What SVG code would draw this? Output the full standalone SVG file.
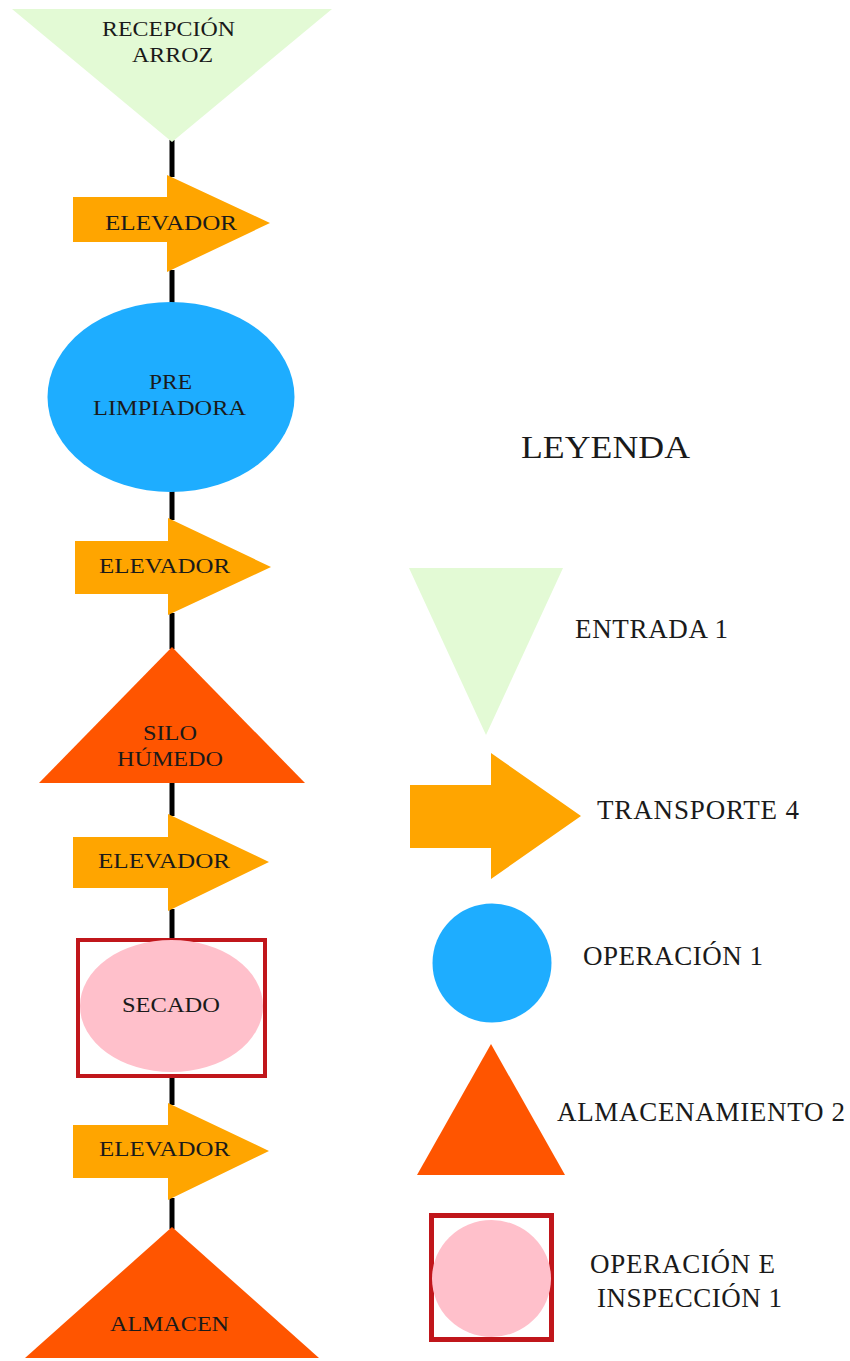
<svg xmlns="http://www.w3.org/2000/svg" width="850" height="1361" viewBox="0 0 850 1361">
<style>
.t{font-family:"Liberation Serif","Times New Roman",serif;fill:#1a1a1a}
.s{font-size:21px}
.l{font-size:27px}
.entrada{fill:#E3FAD5}
.transp{fill:#FFA500}
.oper{fill:#1EADFF}
.alm{fill:#FF5500}
.insp{fill:#FFC0CB}
.box{fill:#ffffff;stroke:#C0161B;stroke-width:4}
.conn{stroke:#000;stroke-width:5;fill:none}
</style>
<rect width="850" height="1361" fill="#ffffff"/>
<g id="connectors">
<line class="conn" x1="172" y1="140" x2="172" y2="177"/>
<line class="conn" x1="172" y1="270" x2="172" y2="304"/>
<line class="conn" x1="172" y1="490" x2="172" y2="520"/>
<line class="conn" x1="172" y1="613" x2="172" y2="649"/>
<line class="conn" x1="172" y1="781" x2="172" y2="816"/>
<line class="conn" x1="172" y1="909" x2="172" y2="938"/>
<line class="conn" x1="172" y1="1078" x2="172" y2="1105"/>
<line class="conn" x1="172" y1="1198" x2="172" y2="1229"/>
</g>
<g id="recepcion">
<polygon class="entrada" points="12,9 332,9 172,142"/>
<text class="t s" x="102" y="36" textLength="133" lengthAdjust="spacingAndGlyphs">RECEPCIÓN</text>
<text class="t s" x="132" y="62" textLength="81" lengthAdjust="spacingAndGlyphs">ARROZ</text>
</g>
<g id="elevador1">
<polygon class="transp" points="73,197 167,197 167,175 270,223 167,272 167,242 73,242"/>
<text class="t s" x="105" y="230" textLength="132" lengthAdjust="spacingAndGlyphs">ELEVADOR</text>
</g>
<g id="prelimpiadora">
<ellipse class="oper" cx="171" cy="397" rx="123.5" ry="95"/>
<text class="t s" x="149" y="389" textLength="43" lengthAdjust="spacingAndGlyphs">PRE</text>
<text class="t s" x="93" y="415" textLength="153" lengthAdjust="spacingAndGlyphs">LIMPIADORA</text>
</g>
<g id="elevador2">
<polygon class="transp" points="75,541 168,541 168,518 271,567 168,615 168,594 75,594"/>
<text class="t s" x="99" y="573" textLength="131" lengthAdjust="spacingAndGlyphs">ELEVADOR</text>
</g>
<g id="silohumedo">
<polygon class="alm" points="172,647 305,783 39,783"/>
<text class="t s" x="143" y="740" textLength="54" lengthAdjust="spacingAndGlyphs">SILO</text>
<text class="t s" x="117" y="766" textLength="106" lengthAdjust="spacingAndGlyphs">HÚMEDO</text>
</g>
<g id="elevador3">
<polygon class="transp" points="73,837 168,837 168,814 269,862 168,911 168,888 73,888"/>
<text class="t s" x="98" y="868" textLength="132" lengthAdjust="spacingAndGlyphs">ELEVADOR</text>
</g>
<g id="secado">
<rect class="box" x="78" y="940" width="187" height="136"/>
<ellipse class="insp" cx="171.5" cy="1006" rx="91.5" ry="66"/>
<text class="t s" x="122" y="1012" textLength="98" lengthAdjust="spacingAndGlyphs">SECADO</text>
</g>
<g id="elevador4">
<polygon class="transp" points="73,1125 168,1125 168,1103 269,1151 168,1200 168,1178 73,1178"/>
<text class="t s" x="99" y="1156" textLength="131" lengthAdjust="spacingAndGlyphs">ELEVADOR</text>
</g>
<g id="almacen">
<polygon class="alm" points="172,1227 319,1358 25,1358"/>
<text class="t s" x="110" y="1331" textLength="119" lengthAdjust="spacingAndGlyphs">ALMACEN</text>
</g>
<g id="leyenda">
<text class="t" style="font-size:32px" x="521" y="458" textLength="169" lengthAdjust="spacingAndGlyphs">LEYENDA</text>
</g>
<g id="leg-entrada">
<polygon class="entrada" points="409,568 563,568 486,735"/>
<text class="t l" x="575" y="638" textLength="153" lengthAdjust="spacing">ENTRADA 1</text>
</g>
<g id="leg-transporte">
<polygon class="transp" points="410,785 491,785 491,753 581,816 491,879 491,848 410,848"/>
<text class="t l" x="597" y="819" textLength="202" lengthAdjust="spacing">TRANSPORTE 4</text>
</g>
<g id="leg-operacion">
<circle class="oper" cx="492" cy="963" r="59.5"/>
<text class="t l" x="583" y="965" textLength="180" lengthAdjust="spacing">OPERACIÓN 1</text>
</g>
<g id="leg-almacenamiento">
<polygon class="alm" points="491,1044 565,1175 417,1175"/>
<text class="t l" x="557" y="1121" textLength="288" lengthAdjust="spacing">ALMACENAMIENTO 2</text>
</g>
<g id="leg-inspeccion">
<rect class="box" x="431.5" y="1215.5" width="120" height="124" style="stroke-width:5"/>
<ellipse class="insp" cx="491.5" cy="1278.5" rx="59.5" ry="58.5"/>
<text class="t l" x="590" y="1273" textLength="185" lengthAdjust="spacing">OPERACIÓN E</text>
<text class="t l" x="597" y="1307" textLength="185" lengthAdjust="spacing">INSPECCIÓN 1</text>
</g>
</svg>
